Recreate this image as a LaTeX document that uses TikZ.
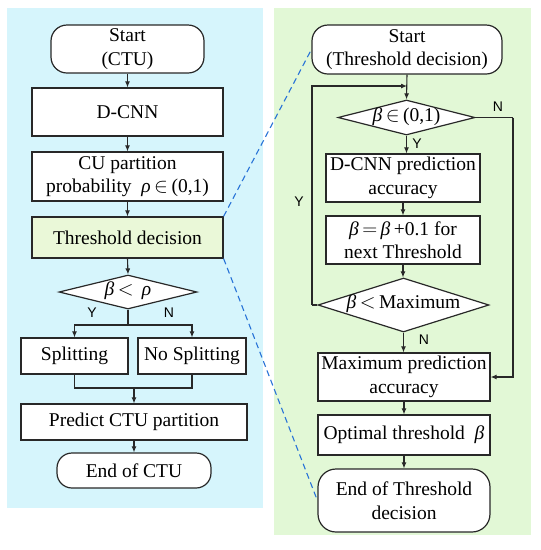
\documentclass[tikz,border=0pt]{standalone}
\usepackage{fontspec}
\setmainfont{Liberation Serif}
\newfontfamily\labsans{Liberation Sans}
\usetikzlibrary{shapes.geometric,arrows.meta}
\definecolor{bgblue}{RGB}{214,245,252}
\definecolor{bggreen}{RGB}{226,248,214}
\definecolor{boxgreen}{RGB}{234,248,216}
\definecolor{dashblue}{RGB}{40,115,215}
\definecolor{edge}{RGB}{40,40,40}
\newcommand{\bt}{{\itshape β}}
\newcommand{\rh}{{\itshape ρ}}
\tikzset{
  txt/.style={font=\fontsize{19.5}{23.5}\selectfont, align=center, text=black},
  box/.style={txt, draw=edge, line width=1.2pt, fill=white, rectangle, inner sep=0pt},
  term/.style={box, rounded corners=16pt},
  dec/.style={draw=edge, line width=1.2pt, fill=white, diamond, inner sep=0pt},
  conn/.style={draw=edge, line width=1.1pt},
  arr/.style={conn, -{Latex[length=6pt,width=5pt]}},
  yn/.style={font=\labsans\fontsize{14}{14}\selectfont, inner sep=0pt, text=black},
  dashln/.style={draw=dashblue, line width=1.1pt, dash pattern=on 6pt off 4pt}
}
\begin{document}
\begin{tikzpicture}[x=1pt,y=-1pt]
\path[use as bounding box, fill=white] (0,0) rectangle (541,550);
\fill[bgblue] (7,8) rectangle (263,508);
\fill[bggreen] (274,8) rectangle (531,535);

% left flow
\node[term, minimum width=153pt, minimum height=48pt] (s1) at (127.5,49) {Start\\(CTU)};
\node[box, minimum width=191pt, minimum height=48pt] (d1) at (127.5,112) {D-CNN};
\node[box, minimum width=191pt, minimum height=49pt] (cu) at (127.5,176.5) {CU partition\\probability \ \rh$\,\in\,$(0,1)};
\node[box, fill=boxgreen, minimum width=191pt, minimum height=41pt] (thr) at (127.5,237.5) {Threshold decision};
\node[dec, minimum width=138pt, minimum height=34pt] (dia1) at (128,292) {};
\node[txt] (dia1t) at (128,291) {\bt$\,<\,$\ \rh};
\node[yn] (y1) at (92,313) {Y};
\node[yn] (n1) at (169,313) {N};
\coordinate (br) at (128,325);
\node[box, minimum width=107pt, minimum height=36pt] (sp) at (74.5,356) {Splitting};
\node[box, minimum width=108pt, minimum height=36pt] (ns) at (192,356) {No Splitting};
\coordinate (mg) at (134,388);
\node[box, minimum width=226pt, minimum height=36pt] (pr) at (134,422) {Predict CTU partition};
\node[term, rounded corners=15pt, minimum width=154pt, minimum height=35pt] (e1) at (134,470.5) {End of CTU};

\draw[arr] (s1) -- (d1);
\draw[arr] (d1) -- (cu);
\draw[arr] (cu) -- (thr);
\draw[arr] (thr.south) -- (dia1.north);
\draw[conn] (dia1.south) -- (br);
\draw[arr] (br) -| (sp.north);
\draw[arr] (br) -| (ns.north);
\draw[conn] (sp.south) |- (mg);
\draw[conn] (ns.south) |- (mg);
\draw[arr] (mg) -- (pr.north);
\draw[arr] (pr) -- (e1);

% right flow
\node[term, minimum width=190pt, minimum height=49pt] (s2) at (407,49.5) {Start\\(Threshold decision)};
\coordinate (lp) at (407,86);
\node[dec, minimum width=137pt, minimum height=35pt] (dia2) at (406.5,117.5) {};
\node[txt] (dia2t) at (406.5,116.5) {\bt$\,\in\,$(0,1)};
\node[yn] (n2) at (498,107) {N};
\node[yn] (y2) at (417,144) {Y};
\node[box, minimum width=154pt, minimum height=48pt] (acc) at (403,178) {D-CNN prediction\\accuracy};
\node[box, minimum width=154pt, minimum height=48pt] (inc) at (403,240) {\bt$\,=\,$\bt$\,$+0.1 for\\next Threshold};
\node[dec, minimum width=171pt, minimum height=54pt] (dia3) at (403.5,305) {};
\node[txt] (dia3t) at (403.5,304) {\bt$\,<\,$Maximum};
\node[yn] (y3) at (299,202) {Y};
\node[yn] (n3) at (424,340) {N};
\node[box, minimum width=172pt, minimum height=48pt] (mx) at (404,377) {Maximum prediction\\accuracy};
\node[box, minimum width=172pt, minimum height=40pt] (op) at (404,435) {Optimal threshold \ \bt};
\node[term, rounded corners=18pt, minimum width=172pt, minimum height=63pt] (e2) at (404,500.5) {End of Threshold\\decision};
\coordinate (lx) at (312,305);
\coordinate (nx) at (513,117.5);

\draw[arr] (s2.south) -- (dia2.north);
\draw[arr] (dia2.south) -- (dia2.south |- acc.north);
\draw[arr] (acc) -- (inc);
\draw[arr] (inc.south) -- (inc.south |- dia3.north);
\draw[conn] (dia3.west) -- (lx);
\draw[arr] (lx) |- (lp);
\draw[arr] (dia3.south) -- (dia3.south |- mx.north);
\draw[conn] (dia2.east) -- (nx);
\draw[arr] (nx) |- (mx.east);
\draw[arr] (mx) -- (op);
\draw[arr] (op) -- (e2);

% zoom lines
\draw[dashln] (thr.north east) -- (s2.west);
\draw[dashln] (thr.south east) -- (e2.west);
\end{tikzpicture}
\end{document}
